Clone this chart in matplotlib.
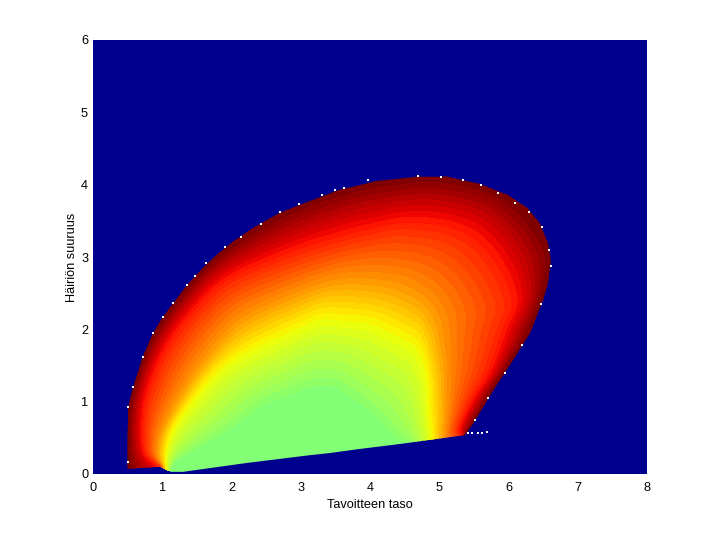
import numpy as np
import matplotlib
matplotlib.use("Agg")
import matplotlib.pyplot as plt
from matplotlib.patches import Polygon

plt.rcParams['font.family'] = ['Liberation Sans', 'DejaVu Sans']

# Outline of the coloured surface
rim_x = [0.50,0.50,0.51,0.58,0.72,0.87,1.01,1.16,1.36,1.59,1.79,2.02,2.31,2.70,3.09,3.57,4.10,4.68,5.11,5.59,5.98,6.27,6.45,6.57,6.61,6.57,6.50,6.31,6.02,5.78,5.49,5.37,
         5.30,5.08,4.85,4.55,4.39,3.80,3.42,3.13,2.20,1.30,1.08,1.05,0.97]
rim_y = [0.07,0.50,0.93,1.20,1.62,1.95,2.17,2.36,2.61,2.85,3.03,3.21,3.40,3.61,3.76,3.93,4.05,4.11,4.11,4.01,3.86,3.68,3.47,3.19,2.96,2.64,2.41,1.95,1.51,1.16,0.70,0.54,
         0.53,0.50,0.47,0.43,0.41,0.34,0.29,0.26,0.15,0.03,0.03,0.06,0.10]

# Colour values
line_values = [1.0, 0.875, 0.75, 0.625, 0.5, 0.5]

# Traced lines of equal colour: one entry per section across the surface, left to right
dark_x   = [0.50,0.50,0.50,0.58,0.80,1.16,1.79,2.70,3.57,4.30,5.11,5.98,6.57,6.55,6.33,6.02,5.78,5.49,5.37]
dark_y   = [0.07,0.35,0.75,1.20,1.80,2.36,3.03,3.61,3.93,4.08,4.11,3.86,3.19,2.60,2.00,1.51,1.16,0.70,0.54]
red_x    = [0.92,0.74,0.72,0.80,1.05,1.45,1.98,2.94,3.50,3.90,4.58,5.34,5.80,6.05,5.92,5.72,5.47,5.30,5.32]
red_y    = [0.10,0.30,0.72,1.15,1.72,2.25,2.71,3.10,3.27,3.37,3.48,3.35,2.95,2.40,2.00,1.45,1.02,0.65,0.53]
orange_x = [1.00,0.92,0.98,1.20,1.50,1.93,2.30,2.94,3.35,3.67,4.10,4.50,4.85,5.02,5.08,5.12,5.12,5.09,5.08]
orange_y = [0.09,0.30,0.62,1.05,1.50,2.00,2.25,2.52,2.66,2.71,2.70,2.62,2.42,2.15,1.85,1.50,1.00,0.60,0.50]
yellow_x = [1.06,1.07,1.20,1.50,1.85,2.25,2.70,3.00,3.30,3.67,3.95,4.20,4.58,4.68,4.75,4.80,4.82,4.86,4.85]
yellow_y = [0.06,0.28,0.62,1.00,1.38,1.62,1.82,1.95,2.05,2.02,1.98,1.88,1.69,1.55,1.38,1.10,0.80,0.52,0.47]
green_x  = [1.12,1.22,1.55,1.95,2.20,2.50,2.80,3.05,3.28,3.50,3.72,3.95,4.15,4.22,4.32,4.42,4.50,4.58,4.60]
green_y  = [0.04,0.17,0.33,0.53,0.68,0.88,0.98,1.07,1.10,1.09,0.95,0.80,0.62,0.55,0.46,0.42,0.43,0.44,0.44]
base_x   = [1.15,1.30,1.70,2.15,2.30,2.60,2.85,3.05,3.28,3.50,3.70,3.90,4.10,4.20,4.32,4.42,4.50,4.58,4.60]
base_y   = [0.03,0.03,0.09,0.15,0.16,0.20,0.23,0.25,0.27,0.30,0.33,0.35,0.38,0.39,0.40,0.42,0.43,0.44,0.44]

# White specks along the rim
speck_x = [0.51,0.50,0.58,0.72,0.87,1.01,1.16,1.36,1.47,1.63,1.90,2.13,2.42,2.70,2.98,3.30,3.50,3.62,3.97,4.70,5.03,5.35,5.60,5.85,6.10,6.30,6.48,6.58,6.61,6.47,6.20,5.95,5.70,5.51,5.41,5.48,5.56,5.62,5.69]
speck_y = [0.93,0.17,1.20,1.62,1.95,2.17,2.36,2.61,2.74,2.92,3.14,3.28,3.46,3.62,3.73,3.86,3.92,3.95,4.07,4.12,4.11,4.07,4.00,3.89,3.74,3.62,3.42,3.10,2.88,2.35,1.78,1.40,1.05,0.74,0.56,0.56,0.56,0.57,0.58]

tick_x = list(range(0, 9))
tick_y = list(range(0, 7))


def smooth(a, axis, factor=8):
    """Catmull-Rom refinement of a traced mesh so the colour bands run smoothly."""
    a = np.moveaxis(a, axis, 0)
    p = np.concatenate([2*a[:1]-a[1:2], a, 2*a[-1:]-a[-2:-1]])
    out = []
    for i in range(1, len(p)-2):
        for t in np.arange(factor)/factor:
            out.append(0.5*(2*p[i] + (p[i+1]-p[i-1])*t + (2*p[i-1]-5*p[i]+4*p[i+1]-p[i+2])*t**2
                            + (3*p[i]-p[i-1]-3*p[i+1]+p[i+2])*t**3))
    out.append(p[-2])
    return np.moveaxis(np.array(out), 0, axis)


bg = '#00008F'
fig = plt.figure(figsize=(7.15, 5.33), dpi=100, facecolor='white')
ax = fig.add_axes([93/715, 1-474/533, (647-93)/715, (474-40)/533])
ax.set_facecolor(bg)

MX = np.array([dark_x, red_x, orange_x, yellow_x, green_x, base_x], float)
MY = np.array([dark_y, red_y, orange_y, yellow_y, green_y, base_y], float)
MX, MY = smooth(MX, 1), smooth(MY, 1)
jj = np.linspace(0, len(line_values)-1, 8*(len(line_values)-1)+1)
MX, MY = smooth(MX, 0), smooth(MY, 0)
MV = np.array([np.full(MX.shape[1], np.interp(j, range(len(line_values)), line_values)) for j in jj])
# margin rows beyond the traced rim so the clip outline decides the edge
MX = np.vstack([MX[0] + 0.5*(MX[0]-MX[8]), MX, MX[-1]])
MY = np.vstack([MY[0] + 0.5*(MY[0]-MY[8]), MY, MY[-1]-0.15])
MV = np.vstack([np.full(MX.shape[1], 1.05), MV, np.full(MX.shape[1], 0.5)])

cmap = matplotlib.colormaps['jet'].resampled(64)
levels = (np.arange(32, 66))/64 - 1e-6
rim = Polygon(list(zip(rim_x, rim_y)), closed=True, transform=ax.transData, facecolor='none', edgecolor='none')
ax.add_patch(rim)
cs = ax.contourf(MX, MY, MV, levels=levels, cmap=cmap, vmin=0, vmax=1, antialiased=False, extend='max')
cs.set_clip_path(rim)
ax.scatter(speck_x, speck_y, s=0.9, marker='s', color='white', linewidths=0, zorder=5)

ax.set_xlim(0, 8)
ax.set_ylim(0, 6)
ax.set_xticks(tick_x)
ax.set_yticks(tick_y)
ax.tick_params(length=0, labelsize=9.2)
ax.tick_params(axis='x', pad=5.5)
ax.tick_params(axis='y', pad=3.5)
for s in ax.spines.values():
    s.set_visible(False)
ax.set_xlabel('Tavoitteen taso', fontsize=9.2, labelpad=3.5)
ax.set_ylabel('Häiriön suuruus', fontsize=9.2, labelpad=2)
fig.savefig('out.png', dpi=100)
